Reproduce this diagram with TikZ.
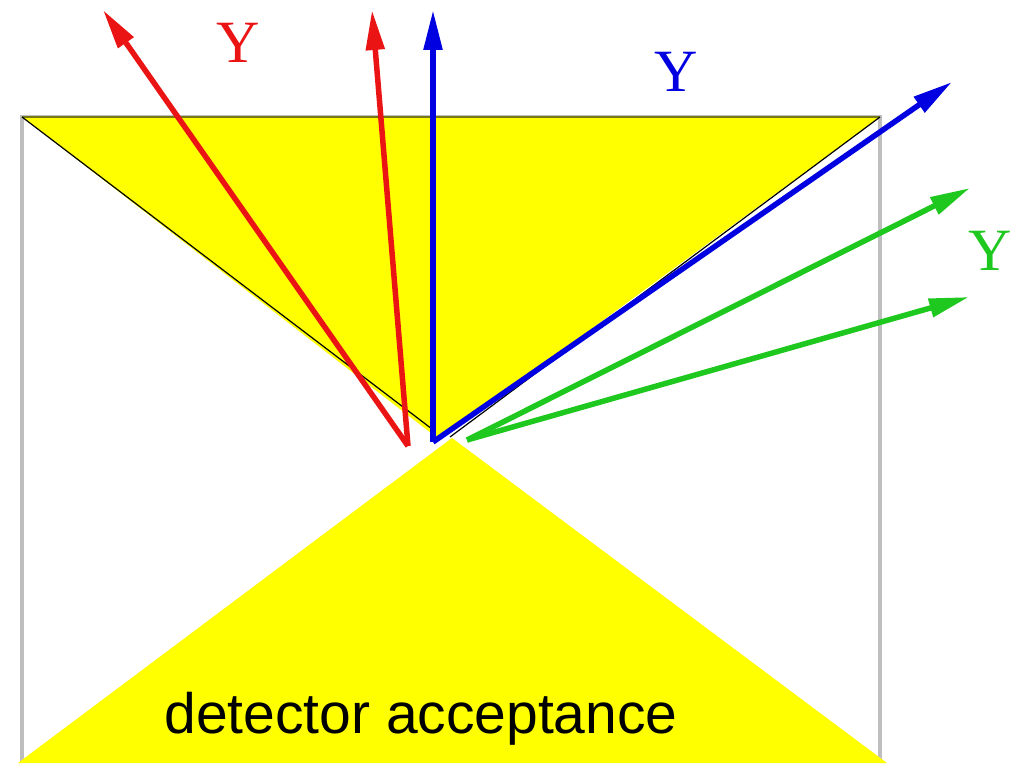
\documentclass[tikz,border=0pt]{standalone}
\usepackage{fontspec}
\setmainfont{Liberation Serif}
\newfontfamily\labelsans{Liberation Sans}
\usetikzlibrary{arrows.meta}
\definecolor{cyel}{RGB}{255,255,0}
\definecolor{cred}{RGB}{235,20,20}
\definecolor{cblue}{RGB}{0,0,225}
\definecolor{cgreen}{RGB}{30,200,30}
\definecolor{cgray}{RGB}{190,190,190}
\definecolor{colive}{RGB}{120,120,20}
\tikzset{
  ray/.style={line width=5.5pt,-{Triangle[length=40pt,width=18pt]}},
  ylab/.style={anchor=base,inner sep=0pt,font=\fontsize{60}{60}\selectfont},
  edge/.style={black,line width=1.2pt}
}
\begin{document}
\begin{tikzpicture}[x=1pt,y=-1pt]
\useasboundingbox (0,0) rectangle (1014,765);
% frame
\coordinate (TL) at (22,117);
\coordinate (TR) at (880,117);
\coordinate (BL) at (22,760);
\coordinate (BR) at (880,760);
\draw[cgray,line width=3.5pt] (TL) rectangle (BR);
% acceptance cones
\coordinate (apexU) at (440,440);
\coordinate (apexL) at (452,438);
\coordinate (baseL) at (18,763);
\coordinate (baseR) at (887,763);
\fill[cyel] (TL) -- (TR) -- (apexU) -- cycle;
\fill[cyel] (baseL) -- (apexL) -- (baseR) -- cycle;
\draw[colive,line width=2.2pt] (TL) -- (TR);
\draw[edge] (TL) -- (432,429);
\draw[edge] (TR) -- (450,437);
% photon origins
\coordinate (oR) at (408,446);
\coordinate (oB) at (433,442);
\coordinate (oG) at (467,440);
\coordinate (tR1) at (103,10);
\coordinate (tR2) at (372,10);
\coordinate (tB1) at (433,10);
\coordinate (tB2) at (952,82);
\coordinate (tG1) at (970,188);
\coordinate (tG2) at (969,297);
\draw[ray,cred] (oR) -- (tR1);
\draw[ray,cred] (oR) -- (tR2);
\draw[ray,cblue] (oB) -- (tB1);
\draw[ray,cblue] (oB) -- (tB2);
\draw[ray,cgreen] (oG) -- (tG1);
\draw[ray,cgreen] (oG) -- (tG2);
% labels
\node[ylab,text=cred] (yR) at (238,63) {Y};
\node[ylab,text=cblue] (yB) at (676,92) {Y};
\node[ylab,text=cgreen] (yG) at (990,270) {Y};
\node[anchor=base,inner sep=0pt,font=\labelsans\fontsize{57}{60}\selectfont] (acc) at (421,733) {detector acceptance};
\end{tikzpicture}
\end{document}
